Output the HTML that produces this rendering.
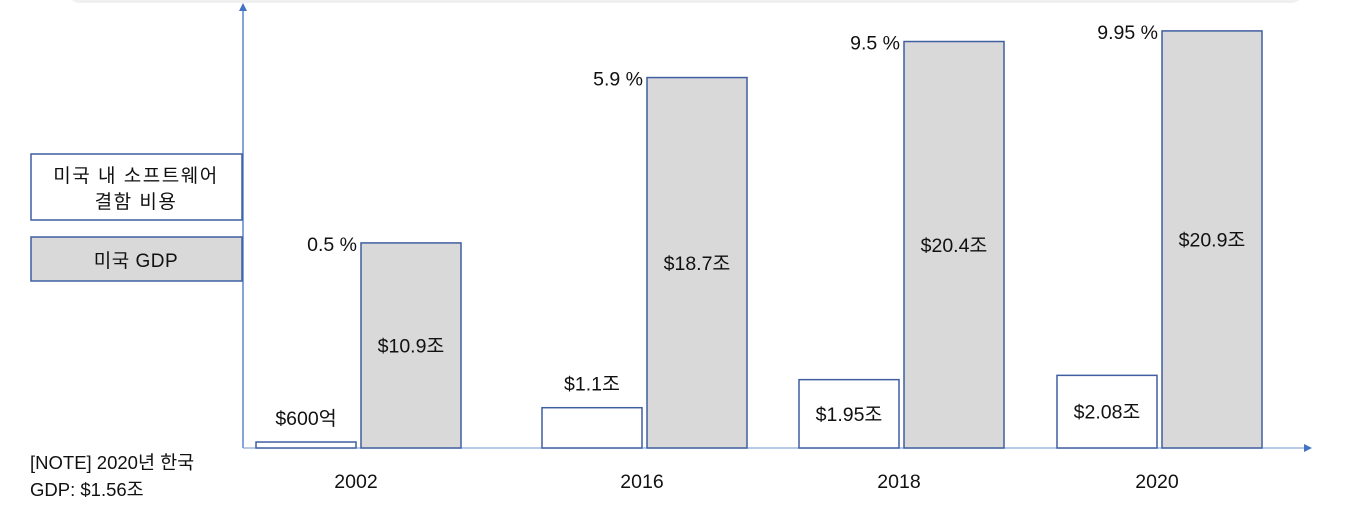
<!DOCTYPE html>
<html><head><meta charset="utf-8"><style>
body{margin:0;width:1369px;height:513px;background:#fff;overflow:hidden;font-family:"Liberation Sans","Noto Sans CJK KR",sans-serif;}
svg text{font-family:"Liberation Sans","Noto Sans CJK KR",sans-serif;fill:#111;}
</style></head><body>
<svg id="chart" width="1369" height="513" xmlns="http://www.w3.org/2000/svg">
<rect x="68" y="-20" width="1235" height="23" rx="12" fill="#f0f0f0"/>
<line x1="243" y1="448" x2="243" y2="10" stroke="#4472c4" stroke-width="1.3"/>
<polygon points="239,11 247,11 243,3" fill="#4472c4"/>
<line x1="243" y1="448" x2="1306" y2="448" stroke="#8eaadb" stroke-width="1.3"/>
<polygon points="1304,444 1304,452 1312,448" fill="#4472c4"/>
<g>
<rect x="31" y="154" width="211" height="66" fill="#fff" stroke="#3f5fa0" stroke-width="1.5"/>
<text x="136" y="182" font-size="19" text-anchor="middle" letter-spacing="1.5">미국 내 소프트웨어</text>
<text x="136" y="208" font-size="19" text-anchor="middle" letter-spacing="1.5">결함 비용</text>
<rect x="31" y="237" width="211" height="44" fill="#d9d9d9" stroke="#3f5fa0" stroke-width="1.5"/>
<text x="136" y="267" font-size="19" text-anchor="middle" letter-spacing="0.5">미국 GDP</text>
</g>
<text x="30" y="469" font-size="18.5">[NOTE] 2020년 한국</text>
<text x="30" y="496" font-size="18.5">GDP: $1.56조</text>
<g id="bars"></g>
</svg>
<script>
const years = ["2002","2016","2018","2020"];
const defectCost = [0.06, 1.1, 1.95, 2.08];
const defectLabels = ["$600억","$1.1조","$1.95조","$2.08조"];
const gdp = [10.9, 18.7, 20.4, 20.9];
const gdpLabels = ["$10.9조","$18.7조","$20.4조","$20.9조"];
const pctLabels = ["0.5 %","5.9 %","9.5 %","9.95 %"];
const groupX = [256, 542, 799, 1057];
const base = 448;
function gdpH(v){return 21.2*v-26;}
function costH(v){return 33*v+4;}
const NS="http://www.w3.org/2000/svg";
const g=document.getElementById('bars');
function mk(tag,attrs,txt){const e=document.createElementNS(NS,tag);for(const k in attrs)e.setAttribute(k,attrs[k]);if(txt!==undefined)e.textContent=txt;g.appendChild(e);return e;}
years.forEach((y,i)=>{
  const x=groupX[i];
  const ch=costH(defectCost[i]);
  const r1=mk('rect',{x:x,y:base-ch,width:100,height:ch,fill:'#fff',stroke:'#3f5fa0','stroke-width':1.5});
  
  
  const gh=gdpH(gdp[i]);
  const gx=x+105;
  const r2=mk('rect',{x:gx,y:base-gh,width:100,height:gh,fill:'#d9d9d9',stroke:'#3f5fa0','stroke-width':1.5});
  
  
  const inside=ch>50;
  const cy=inside?base-ch/2+7:base-ch-17;
  const t1=mk('text',{x:x+50,y:cy,'font-size':19.5,'text-anchor':'middle'},defectLabels[i]);
  
  
  const t2=mk('text',{x:gx+50,y:base-gh/2+7,'font-size':19.5,'text-anchor':'middle'},gdpLabels[i]);
  
  
  const t3=mk('text',{x:gx-4,y:base-gh+8,'font-size':19.5,'text-anchor':'end'},pctLabels[i]);
  
  
  const t4=mk('text',{x:x+100,y:488,'font-size':19.5,'text-anchor':'middle'},y);
  
  
});
</script>
</body></html>
